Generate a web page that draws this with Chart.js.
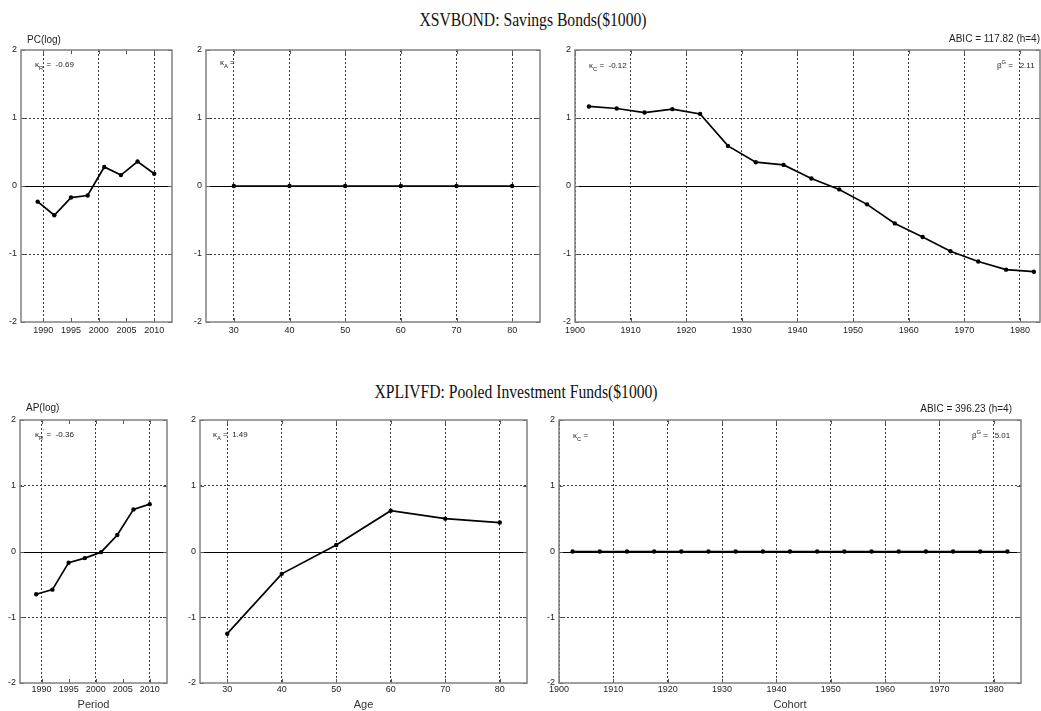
<!DOCTYPE html>
<html>
<head>
<meta charset="utf-8">
<script src="https://cdn.jsdelivr.net/npm/chart.js@4.4.1/dist/chart.umd.min.js"></script>
<style>
  body { margin: 0; background: #fff; width: 1041px; height: 711px; overflow: hidden; position: relative; }
  canvas { position: absolute; }
  .title {
    position: absolute; white-space: nowrap; color: #111;
    font-family: "Liberation Serif", "DejaVu Serif", serif; font-size: 18px;
    transform: translate(-50%, -50%) scaleX(0.87);
  }
</style>
</head>
<body>
<div class="title" style="left:533px; top:20px">XSVBOND:&nbsp;Savings Bonds($1000)</div>
<div class="title" style="left:516px; top:392px">XPLIVFD:&nbsp;Pooled Investment Funds($1000)</div>
<script>
// x positions of the estimates
const periodYears = [1989, 1992, 1995, 1998, 2001, 2004, 2007, 2010];
const ageGroups = [30, 40, 50, 60, 70, 80];
const cohortYears = [1902.5, 1907.5, 1912.5, 1917.5, 1922.5, 1927.5, 1932.5, 1937.5, 1942.5,
  1947.5, 1952.5, 1957.5, 1962.5, 1967.5, 1972.5, 1977.5, 1982.5];

// tick labels
const periodTicks = [1990, 1995, 2000, 2005, 2010];
const ageTicks = [30, 40, 50, 60, 70, 80];
const cohortTicks = [1900, 1910, 1920, 1930, 1940, 1950, 1960, 1970, 1980];
const effectTicks = [-2, -1, 0, 1, 2];

// XSVBOND effects (log scale)
const bondPeriod = [-0.23, -0.43, -0.17, -0.14, 0.28, 0.16, 0.36, 0.18];
const bondAge = [0, 0, 0, 0, 0, 0];
const bondCohort = [1.17, 1.14, 1.08, 1.13, 1.06, 0.59, 0.35, 0.31, 0.11, -0.05, -0.27, -0.55,
  -0.75, -0.96, -1.11, -1.23, -1.26];

// XPLIVFD effects (log scale)
const fundPeriod = [-0.65, -0.58, -0.17, -0.10, -0.01, 0.25, 0.64, 0.72];
const fundAge = [-1.25, -0.34, 0.10, 0.62, 0.50, 0.44];
const fundCohort = [0, 0, 0, 0, 0, 0, 0, 0, 0, 0, 0, 0, 0, 0, 0, 0, 0];

Chart.defaults.font.family = '"Liberation Sans Narrow", "Liberation Sans", Arial, sans-serif';
Chart.defaults.font.size = 9;
Chart.defaults.color = '#222';
Chart.defaults.animation = false;

const AXIS_W = 30;
const PAD_TOP = 20;
const PAD_RIGHT = 6;

function fontFor(p, size) {
  const s = p.sub || p.sup ? size * 0.72 : size;
  return s + 'px "Liberation Sans Narrow", "Liberation Sans", Arial, sans-serif';
}

function richWidth(ctx, parts, size) {
  return parts.reduce((w, p) => {
    ctx.font = fontFor(p, size);
    return w + ctx.measureText(p.t).width;
  }, 0);
}

function drawRich(ctx, parts, x, y, size, align) {
  let cx = align === 'right' ? x - richWidth(ctx, parts, size) : x;
  parts.forEach(p => {
    ctx.font = fontFor(p, size);
    const dy = p.sub ? size * 0.4 : p.sup ? -size * 0.4 : 0;
    ctx.fillText(p.t, cx, y + dy);
    cx += ctx.measureText(p.t).width;
  });
}

// frame, zero line, inward ticks and the panel notes
const panelDecor = {
  id: 'panelDecor',
  beforeDatasetsDraw(chart) {
    const { ctx, chartArea: a, scales: { x, y } } = chart;
    ctx.save();
    ctx.strokeStyle = '#000';
    ctx.lineWidth = 1.2;
    const y0 = Math.round(y.getPixelForValue(0)) + 0.5;
    ctx.beginPath();
    ctx.moveTo(a.left, y0);
    ctx.lineTo(a.right, y0);
    ctx.stroke();

    ctx.strokeStyle = '#555';
    ctx.lineWidth = 1;
    ctx.beginPath();
    x.ticks.forEach(t => {
      const px = Math.round(x.getPixelForValue(t.value)) + 0.5;
      ctx.moveTo(px, a.bottom); ctx.lineTo(px, a.bottom - 4);
      ctx.moveTo(px, a.top); ctx.lineTo(px, a.top + 4);
    });
    y.ticks.forEach(t => {
      const py = Math.round(y.getPixelForValue(t.value)) + 0.5;
      ctx.moveTo(a.left, py); ctx.lineTo(a.left + 4, py);
      ctx.moveTo(a.right, py); ctx.lineTo(a.right - 4, py);
    });
    ctx.stroke();

    ctx.strokeStyle = '#808080';
    ctx.lineWidth = 1.5;
    ctx.strokeRect(a.left, a.top, a.right - a.left, a.bottom - a.top);
    ctx.restore();
  },
  afterDraw(chart, args, opts) {
    const { ctx, chartArea: a } = chart;
    ctx.save();
    ctx.fillStyle = '#222';
    ctx.textBaseline = 'middle';
    (opts.notes || []).forEach(n => {
      const x = n.anchor === 'right' ? a.right - n.dx : a.left + n.dx;
      drawRich(ctx, n.parts, x, a.top + n.dy, n.size || 8, n.align || 'left');
    });
    ctx.restore();
  }
};

function panel(rect, xs, ys, ticks, xmin, xmax, opts) {
  const canvas = document.createElement('canvas');
  const bottomH = opts.xTitle ? 33 : 18;
  const w = AXIS_W + (rect.r - rect.l) + PAD_RIGHT;
  const h = PAD_TOP + (rect.b - rect.t) + bottomH;
  canvas.width = w;
  canvas.height = h;
  canvas.style.left = (rect.l - AXIS_W) + 'px';
  canvas.style.top = (rect.t - PAD_TOP) + 'px';
  canvas.style.width = w + 'px';
  canvas.style.height = h + 'px';
  document.body.appendChild(canvas);

  const points = xs.map((v, i) => ({ x: v, y: ys[i] }));
  const majorEvery = opts.majorEvery || 10;

  return new Chart(canvas, {
    type: 'line',
    data: {
      datasets: [{
        data: points,
        borderColor: '#000',
        borderWidth: 1.7,
        pointRadius: 2.2,
        pointBackgroundColor: '#000',
        pointBorderColor: '#000',
        pointBorderWidth: 0,
        tension: 0
      }]
    },
    options: {
      responsive: false,
      devicePixelRatio: 1,
      layout: { autoPadding: false, padding: { top: PAD_TOP, right: PAD_RIGHT, left: 0, bottom: 0 } },
      plugins: {
        legend: { display: false },
        tooltip: { enabled: false },
        panelDecor: { notes: opts.notes }
      },
      scales: {
        x: {
          type: 'linear',
          min: xmin,
          max: xmax,
          afterFit: s => { s.height = bottomH; },
          afterBuildTicks: s => { s.ticks = ticks.map(v => ({ value: v })); },
          ticks: { padding: opts.xTitle ? 1 : 3, maxRotation: 0, autoSkip: false, callback: v => String(v) },
          grid: {
            drawTicks: false,
            lineWidth: 1,
            color: c => (c.tick && c.tick.value % majorEvery === 0 ? '#3a3a3a' : 'rgba(0,0,0,0)')
          },
          border: { display: false, dash: [2, 2] },
          title: opts.xTitle ? {
            display: true, text: opts.xTitle, color: '#333',
            font: { size: 11 }, padding: { top: 2, bottom: 4 }
          } : { display: false }
        },
        y: {
          type: 'linear',
          min: -2,
          max: 2,
          afterFit: s => { s.width = AXIS_W; },
          afterBuildTicks: s => { s.ticks = effectTicks.map(v => ({ value: v })); },
          ticks: { padding: 4 },
          grid: {
            drawTicks: false,
            lineWidth: 1,
            color: c => (c.tick && Math.abs(c.tick.value) === 1 ? '#3a3a3a' : 'rgba(0,0,0,0)')
          },
          border: { display: false, dash: [2, 2] }
        }
      }
    },
    plugins: [panelDecor]
  });
}

const K = 'κ';

// XSVBOND row
panel({ l: 21, t: 50, r: 172, b: 322 }, periodYears, bondPeriod, periodTicks, 1986, 2013.2, {
  notes: [
    { dx: 6, dy: -10, size: 10, parts: [{ t: 'PC(log)' }] },
    { dx: 14, dy: 15, parts: [{ t: K }, { t: 'R', sub: true }, { t: '\'', sup: true }, { t: ' =  -0.69' }] }
  ]
});
panel({ l: 206, t: 50, r: 540, b: 322 }, ageGroups, bondAge, ageTicks, 25, 85, {
  notes: [
    { dx: 14, dy: 13, parts: [{ t: K }, { t: 'A', sub: true }, { t: ' =' }] }
  ]
});
panel({ l: 575, t: 50, r: 1040, b: 322 }, cohortYears, bondCohort, cohortTicks, 1900, 1983.6, {
  notes: [
    { dx: 0, dy: -11, size: 10, align: 'right', anchor: 'right', parts: [{ t: 'ABIC = 117.82 (h=4)' }] },
    { dx: 14, dy: 16, parts: [{ t: K }, { t: 'C', sub: true }, { t: ' =  -0.12' }] },
    { dx: 43, dy: 16, anchor: 'right', parts: [{ t: 'β' }, { t: 'G', sup: true }, { t: ' =   2.11' }] }
  ]
});

// XPLIVFD row
panel({ l: 20, t: 420, r: 167, b: 683 }, periodYears, fundPeriod, periodTicks, 1986, 2013.2, {
  xTitle: 'Period',
  notes: [
    { dx: 6, dy: -12, size: 10, parts: [{ t: 'AP(log)' }] },
    { dx: 15, dy: 15, parts: [{ t: K }, { t: 'R', sub: true }, { t: '\'', sup: true }, { t: ' =  -0.36' }] }
  ]
});
panel({ l: 200, t: 420, r: 527, b: 683 }, ageGroups, fundAge, ageTicks, 25, 85, {
  xTitle: 'Age',
  notes: [
    { dx: 13, dy: 15, parts: [{ t: K }, { t: 'A', sub: true }, { t: ' =  1.49' }] }
  ]
});
panel({ l: 559, t: 420, r: 1021, b: 683 }, cohortYears, fundCohort, cohortTicks, 1900, 1985, {
  xTitle: 'Cohort',
  notes: [
    { dx: 9, dy: -11, size: 10, align: 'right', anchor: 'right', parts: [{ t: 'ABIC = 396.23 (h=4)' }] },
    { dx: 14, dy: 16, parts: [{ t: K }, { t: 'C', sub: true }, { t: ' =' }] },
    { dx: 49, dy: 16, anchor: 'right', parts: [{ t: 'β' }, { t: 'G', sup: true }, { t: ' =   5.01' }] }
  ]
});
</script>
</body>
</html>
